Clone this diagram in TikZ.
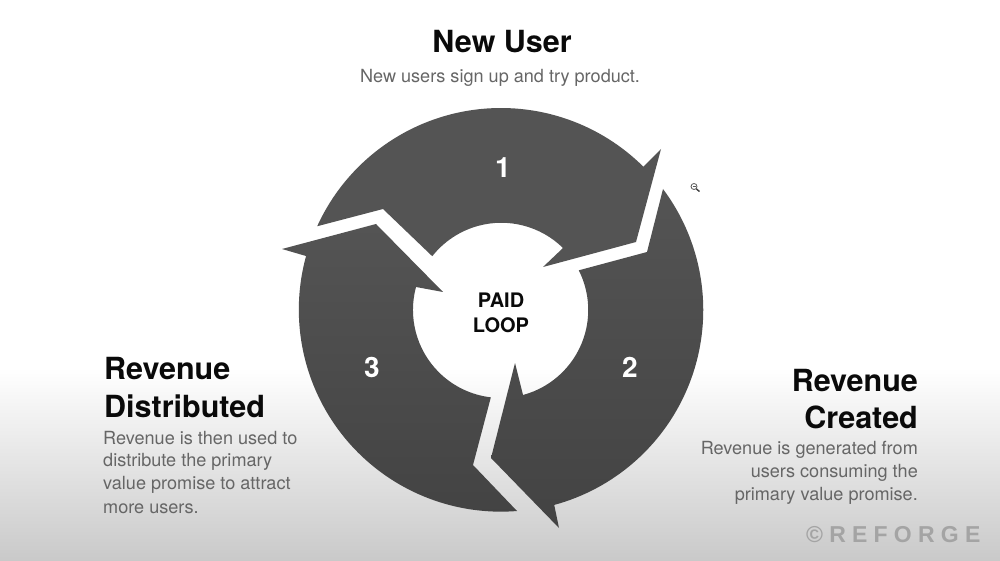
\documentclass[tikz,border=0pt]{standalone}
\usepackage{fontspec}
\usetikzlibrary{calc}
\setmainfont{TeX Gyre Heros}
\newfontfamily\wmfont[LetterSpace=27]{Liberation Sans}
\definecolor{shapegrey}{HTML}{545454}
\definecolor{shapedark}{HTML}{434343}
\definecolor{bodygrey}{HTML}{666666}
\definecolor{headblack}{HTML}{0A0A0A}
\definecolor{wmgrey}{HTML}{A4A4A4}
\tikzset{
  lowershape/.style={top color=shapegrey,middle color=shapegrey,bottom color=shapedark,draw=none},
  headtext/.style={font=\fontsize{30.5}{30}\selectfont\bfseries,text=headblack,inner sep=0pt},
  bodytext/.style={font=\fontsize{18.1}{18}\selectfont,text=bodygrey,inner sep=0pt},
  numtext/.style={font=\fontsize{28}{28}\selectfont\bfseries,text=white,inner sep=0pt},
  looptext/.style={font=\fontsize{20}{20}\selectfont\bfseries,text=headblack,inner sep=0pt}
}
\begin{document}
\begin{tikzpicture}[x=1pt,y=1pt]
\useasboundingbox (0,0) rectangle (1000,560);
\fill[white] (0,0) rectangle (1000,560);
\shade[top color=white,bottom color=black!21,draw=none] (0,0) rectangle (1000,192);
\coordinate (c) at (501,250);
% arrow 1
\fill[shapegrey] ($(c)+(155.5:202pt)$) arc[start angle=155.5,end angle=45.2,radius=202pt]
  -- (661,411) -- (636,318) -- (543,293) -- (563,312)
  arc[start angle=45.5,end angle=141.7,radius=88pt]
  -- (383,351) -- cycle;
% arrow 2
\path[lowershape] (663,371) arc[start angle=36.8,end angle=-74.8,radius=202pt]
  -- (559,32) -- (491,102) -- (515,197) -- (523,165)
  arc[start angle=-75,end angle=26.8,radius=88pt]
  -- (647,308) -- cycle;
% arrow 3
\path[lowershape] (517,49) arc[start angle=274.6,end angle=164.6,radius=202pt]
  -- (282,311) -- (376,336) -- (443,268) -- (416,273)
  arc[start angle=164.9,end angle=263.4,radius=88pt]
  -- (473,95) -- cycle;
% labels
\node[headtext,anchor=base] (t1) at (502,507) {New User};
\node[bodytext,anchor=base] (b1) at (500,477) {New users sign up and try product.};
\node[numtext,anchor=base] (n1) at (503,382) {1};
\node[numtext,anchor=base] (n2) at (630,183) {2};
\node[numtext,anchor=base] (n3) at (372,183) {3};
\node[looptext,anchor=base] (l1) at (501,253) {PAID};
\node[looptext,anchor=base] (l2) at (501,228) {LOOP};
\node[headtext,anchor=base west] (t3a) at (104,181) {Revenue};
\node[headtext,anchor=base west] (t3b) at (104,143) {Distributed};
\node[bodytext,anchor=base west] (b3a) at (103,116) {Revenue is then used to};
\node[bodytext,anchor=base west] (b3b) at (103,94) {distribute the primary};
\node[bodytext,anchor=base west] (b3c) at (103,71) {value promise to attract};
\node[bodytext,anchor=base west] (b3d) at (103,47) {more users.};
\node[headtext,anchor=base east] (t2a) at (918,169) {Revenue};
\node[headtext,anchor=base east] (t2b) at (918,132) {Created};
\node[bodytext,anchor=base east] (b2a) at (918,106) {Revenue is generated from};
\node[bodytext,anchor=base east] (b2b) at (918,83) {users consuming the};
\node[bodytext,anchor=base east] (b2c) at (918,60) {primary value promise.};
\node[anchor=base west,inner sep=0pt,text=wmgrey,font=\wmfont\bfseries\fontsize{23}{23}\selectfont] (wm) at (806,18) {©REFORGE};
% zoom cursor icon
\draw[black!65,line width=0.8pt] (694,373.5) circle (3pt);
\draw[black!75,line width=1.4pt] (696.2,371.2) -- (699.5,368.5);
\draw[black!65,line width=0.6pt] (692.5,373.5) -- (695.5,373.5);
\end{tikzpicture}
\end{document}
